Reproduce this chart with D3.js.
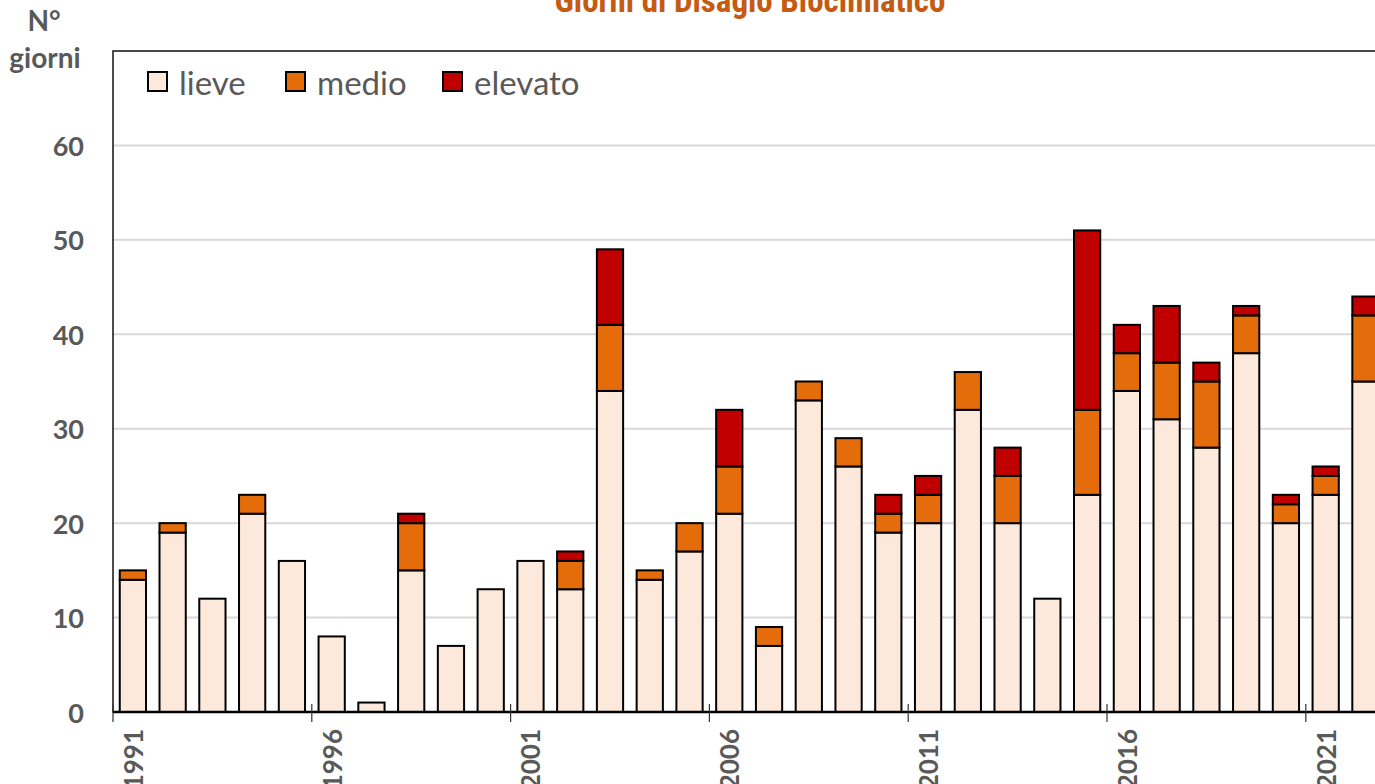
<!DOCTYPE html>
<html>
<head>
<meta charset="utf-8">
<script src="https://cdn.jsdelivr.net/npm/d3@7"></script>
<style>
  html, body { margin: 0; padding: 0; background: #fff; overflow: hidden; }
  svg { display: block; }
</style>
</head>
<body>
<svg id="chart" width="1375" height="784"></svg>
<script>
const years = [1991,1992,1993,1994,1995,1996,1997,1998,1999,2000,2001,2002,2003,2004,2005,2006,2007,2008,2009,2010,2011,2012,2013,2014,2015,2016,2017,2018,2019,2020,2021,2022];
const lieve   = [14,19,12,21,16,8,1,15,7,13,16,13,34,14,17,21,7,33,26,19,20,32,20,12,23,34,31,28,38,20,23,35];
const medio   = [1,1,0,2,0,0,0,5,0,0,0,3,7,1,3,5,2,2,3,2,3,4,5,0,9,4,6,7,4,2,2,7];
const elevato = [0,0,0,0,0,0,0,1,0,0,0,1,8,0,0,6,0,0,0,2,2,0,3,0,19,3,6,2,1,1,1,2];
const seriesNames = ["lieve", "medio", "elevato"];
const seriesColors = ["#FCE9DB", "#E46C0A", "#C00000"];
const yTicks = [0,10,20,30,40,50,60];
const xTickYears = [1991,1996,2001,2006,2011,2016,2021];
const titleText = "Giorni di Disagio Bioclimatico";

const svg = d3.select("#chart");
const pLeft = 113, pTop = 51, pBottom = 712;
const step = 39.76;
const pRight = pLeft + step * years.length;

const x = d3.scaleBand().domain(years).range([pLeft, pRight]).paddingInner(0.34).paddingOuter(0.17);
const y = d3.scaleLinear().domain([0, 70]).range([pBottom, pTop]);

const table = years.map((yr, i) => ({year: yr, lieve: lieve[i], medio: medio[i], elevato: elevato[i]}));
const stacked = d3.stack().keys(seriesNames)(table);
const color = d3.scaleOrdinal().domain(seriesNames).range(seriesColors);

// gridlines
svg.append("g").selectAll("line").data(yTicks.filter(d => d > 0)).join("line")
  .attr("x1", pLeft).attr("x2", 1375)
  .attr("y1", d => y(d)).attr("y2", d => y(d))
  .attr("stroke", "#D9D9D9").attr("stroke-width", 2);

// plot border
svg.append("rect").attr("x", pLeft).attr("y", pTop).attr("width", pRight - pLeft + 20).attr("height", pBottom - pTop)
  .attr("fill", "none").attr("stroke", "#111").attr("stroke-width", 1.5);

// bars
svg.append("g").selectAll("g").data(stacked).join("g")
  .attr("fill", d => color(d.key))
  .selectAll("rect").data(d => d.filter(p => p[1] - p[0] > 0)).join("rect")
  .attr("x", d => x(d.data.year))
  .attr("width", x.bandwidth())
  .attr("y", d => y(d[1]))
  .attr("height", d => y(d[0]) - y(d[1]))
  .attr("stroke", "#000").attr("stroke-width", 2);

// x axis line
svg.append("line").attr("x1", pLeft).attr("x2", 1375).attr("y1", pBottom).attr("y2", pBottom)
  .attr("stroke", "#000").attr("stroke-width", 2.5);

// x ticks at category boundaries
svg.append("g").selectAll("line").data(xTickYears).join("line")
  .attr("x1", d => x(d) - x.step() * 0.17).attr("x2", d => x(d) - x.step() * 0.17)
  .attr("y1", pBottom - 8).attr("y2", pBottom + 10)
  .attr("stroke", "#333").attr("stroke-width", 1.2);

// x tick labels
svg.append("g").selectAll("text").data(xTickYears).join("text")
  .attr("transform", d => `translate(${x(d) + x.bandwidth() / 2},${729}) rotate(-90)`)
  .attr("text-anchor", "end")
  .attr("dominant-baseline", "central")
  .attr("font-family", "Lato, 'Open Sans', sans-serif")
  .attr("font-weight", "bold")
  .attr("font-size", 26)
  .attr("fill", "#595959")
  .text(d => d);

// y tick labels
svg.append("g").selectAll("text").data(yTicks).join("text")
  .attr("x", 84).attr("y", d => y(d))
  .attr("text-anchor", "end")
  .attr("dominant-baseline", "central")
  .attr("font-family", "Lato, 'Open Sans', sans-serif")
  .attr("font-weight", "bold")
  .attr("font-size", 27)
  .attr("fill", "#595959")
  .text(d => d);

// y axis title
svg.append("text").attr("x", 44).attr("y", 31).attr("text-anchor", "middle")
  .attr("font-family", "Lato, 'Open Sans', sans-serif").attr("font-weight", "bold")
  .attr("font-size", 28).attr("fill", "#595959").text("N°");
svg.append("text").attr("x", 45).attr("y", 68).attr("text-anchor", "middle")
  .attr("font-family", "Lato, 'Open Sans', sans-serif").attr("font-weight", "bold")
  .attr("font-size", 28).attr("fill", "#595959").text("giorni");

// title
svg.append("text").attr("x", 750).attr("y", 12).attr("text-anchor", "middle")
  .attr("font-family", "'Liberation Sans Narrow', 'Arial Narrow', 'Roboto Condensed', sans-serif")
  .attr("font-weight", "bold").attr("font-size", 33).attr("fill", "#C55A11")
  .text(titleText);

// legend
const legendX = [148, 286, 443];
const lg = svg.append("g").selectAll("g").data(seriesNames).join("g")
  .attr("transform", (d, i) => `translate(${legendX[i]},72)`);
lg.append("rect").attr("width", 19).attr("height", 19)
  .attr("fill", d => color(d)).attr("stroke", "#000").attr("stroke-width", 2);
lg.append("text").attr("x", 31).attr("y", 10).attr("dominant-baseline", "central")
  .attr("font-family", "Lato, 'Open Sans', sans-serif").attr("font-size", 33)
  .attr("fill", "#595959").text(d => d);
</script>
</body>
</html>
